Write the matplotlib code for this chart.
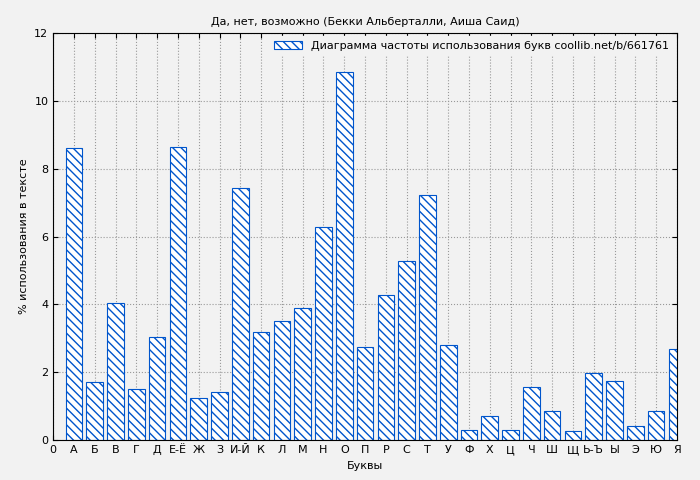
import matplotlib.pyplot as plt

letters = ['А', 'Б', 'В', 'Г', 'Д', 'Е-Ё', 'Ж', 'З', 'И-Й', 'К', 'Л', 'М', 'Н', 'О', 'П',
           'Р', 'С', 'Т', 'У', 'Ф', 'Х', 'Ц', 'Ч', 'Ш', 'Щ', 'Ь-Ъ', 'Ы', 'Э', 'Ю', 'Я']
values = [8.6, 1.7, 4.05, 1.52, 3.05, 8.65, 1.25, 1.42, 7.42, 3.2, 3.52, 3.9, 6.27, 10.85, 2.75,
          4.27, 5.27, 7.23, 2.8, 0.3, 0.72, 0.3, 1.57, 0.85, 0.28, 1.97, 1.75, 0.43, 0.85, 2.7]

bg = '#f2f2f2'
fig = plt.figure(figsize=(7, 4.8), dpi=100, facecolor=bg)
ax = fig.add_axes([0.076, 0.083, 0.891, 0.848], facecolor=bg)

pos = list(range(1, len(letters) + 1))
ax.bar(pos, values, width=0.8, facecolor='white', edgecolor='#0055cc', hatch='\\\\\\\\',
       linewidth=0.8, label='Диаграмма частоты использования букв coollib.net/b/661761')

ax.set_xlim(0, 30)
ax.set_ylim(0, 12)
ax.set_xticks(range(0, 31))
ax.set_xticklabels(['0'] + letters, fontsize=8)
ax.set_yticks(range(0, 13, 2))
ax.tick_params(labelsize=8, direction='in', top=True, right=True)
ax.grid(True, color='#999999', linestyle=':', linewidth=0.8)
ax.set_axisbelow(True)
ax.set_xlabel('Буквы', fontsize=8)
ax.set_ylabel('% использования в тексте', fontsize=8)
ax.set_title('Да, нет, возможно (Бекки Альберталли, Аиша Саид)', fontsize=8)
leg = ax.legend(loc='upper right', fontsize=8, frameon=True, fancybox=False,
                framealpha=1, edgecolor=bg, facecolor=bg, handlelength=2.5, borderaxespad=0.3)

plt.savefig('out.png', dpi=100, facecolor=bg)
